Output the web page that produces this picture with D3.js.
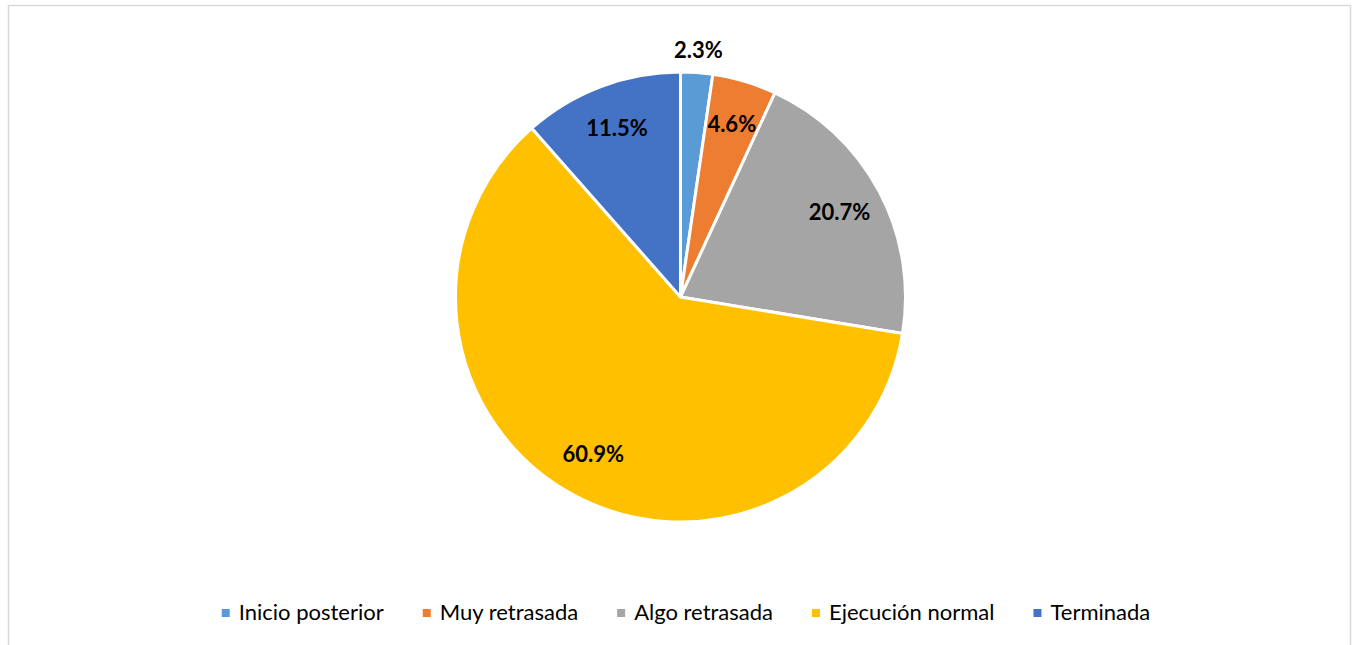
<!DOCTYPE html>
<html>
<head>
<meta charset="utf-8">
<script src="https://cdn.jsdelivr.net/npm/d3@7"></script>
<style>
  html, body { margin: 0; padding: 0; background: #fff; }
</style>
</head>
<body>
<div class="container"></div>
<script>
const WIDTH = 1352;
const HEIGHT = 645;

// data
const categories = ["Inicio posterior", "Muy retrasada", "Algo retrasada", "Ejecución normal", "Terminada"];
const counts = [2, 4, 18, 53, 10];
const colors = ["#5B9BD5", "#ED7D31", "#A5A5A5", "#FFC000", "#4472C4"];

const total = d3.sum(counts);
const data = categories.map((c, i) => ({ name: c, value: counts[i], color: colors[i] }));

const svg = d3.select(".container")
  .append("svg")
  .attr("width", WIDTH)
  .attr("height", HEIGHT)
  .attr("viewBox", `0 0 ${WIDTH} ${HEIGHT}`);

// background + frame
svg.append("rect")
  .attr("x", 0).attr("y", 0)
  .attr("width", WIDTH).attr("height", HEIGHT)
  .attr("fill", "#fff");

svg.append("path")
  .attr("d", `M8.5,${HEIGHT + 5} V5.5 H1350.5 V${HEIGHT + 5}`)
  .attr("fill", "none")
  .attr("stroke", "#D9D9D9")
  .attr("stroke-width", 1.5);

// pie
const cx = 680.5, cy = 297, R = 225;
const pie = d3.pie().value(d => d.value).sort(null);
const arc = d3.arc().innerRadius(0).outerRadius(R);
const labelArc = d3.arc().innerRadius(R * 0.8).outerRadius(R * 0.8);
const outerLabelArc = d3.arc().innerRadius(R + 22).outerRadius(R + 22);

const g = svg.append("g").attr("transform", `translate(${cx},${cy})`);
const arcs = pie(data);

g.selectAll("path.slice")
  .data(arcs)
  .enter()
  .append("path")
  .attr("class", "slice")
  .attr("d", arc)
  .attr("fill", d => d.data.color)
  .attr("stroke", "#fff")
  .attr("stroke-width", 3)
  .attr("stroke-linejoin", "round");

// etiquetas de porcentaje
g.selectAll("text.lbl")
  .data(arcs)
  .enter()
  .append("text")
  .attr("class", "lbl")
  .attr("transform", d => {
    const small = d.data.value / total < 0.03;
    const p = (small ? outerLabelArc : labelArc).centroid(d);
    return `translate(${p[0]},${p[1]})`;
  })
  .attr("text-anchor", "middle")
  .attr("dy", "0.35em")
  .attr("font-family", "Lato, 'Open Sans', sans-serif")
  .attr("font-weight", "bold")
  .attr("font-size", "22px")
  .attr("fill", "#000")
  .text(d => (d.data.value / total * 100).toFixed(1) + "%");

// leyenda
const legend = svg.append("g");
const FONT = 22, GAP = 39, MARK = 8, MARK_GAP = 9;
let xPos = 0;
const items = [];
data.forEach(d => {
  const it = legend.append("g");
  it.append("rect")
    .attr("x", 0).attr("y", -11)
    .attr("width", MARK).attr("height", MARK)
    .attr("fill", d.color);
  const t = it.append("text")
    .attr("x", MARK + MARK_GAP)
    .attr("y", 0)
    .attr("font-family", "Lato, 'Open Sans', sans-serif")
    .attr("font-size", FONT + "px")
    .attr("fill", "#000")
    .text(d.name);
  const w = MARK + MARK_GAP + t.node().getComputedTextLength();
  items.push({ it, x: xPos });
  xPos += w + GAP;
});
const legendW = xPos - GAP;
const legendX = 686 - legendW / 2;
items.forEach(o => o.it.attr("transform", `translate(${legendX + o.x},620)`));
</script>
</body>
</html>
